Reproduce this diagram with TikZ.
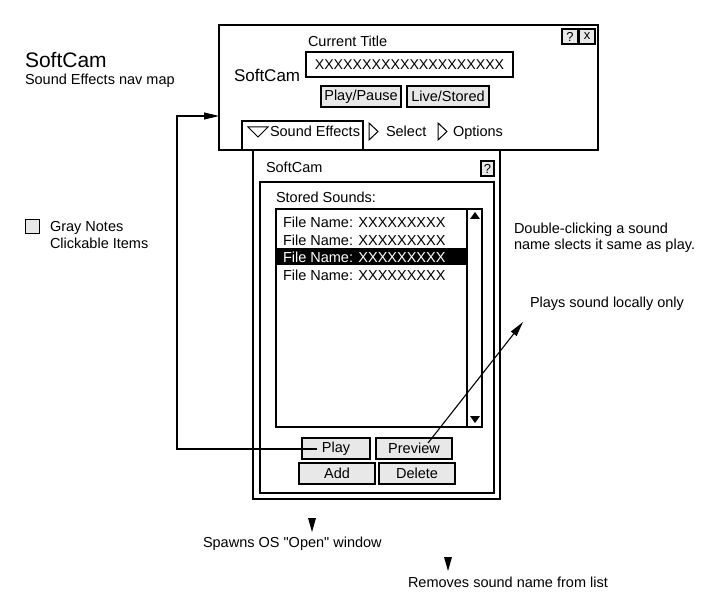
\documentclass[tikz,border=0pt]{standalone}
\usepackage{fontspec}
\setmainfont{Liberation Sans}
\usetikzlibrary{arrows.meta,calc}
\definecolor{btngray}{HTML}{E8E8E8}
\newcommand\fsz{\fontsize{14.5}{17}\selectfont}
\newcommand\fszs{\fontsize{13}{15}\selectfont}
\begin{document}
\begin{tikzpicture}[x=1pt,y=-1pt, line width=1.1pt,
  txt/.style={inner sep=0pt, outer sep=0pt, anchor=base west, font=\fsz},
  btn/.style={draw, fill=btngray, inner sep=0pt, outer sep=0pt, minimum height=21pt, font=\fsz},
  qbox/.style={draw, fill=btngray, inner sep=0pt, outer sep=0pt, minimum width=16pt, minimum height=15pt, font=\fszs},
  win/.style={draw, fill=white, line width=1.3pt, inner sep=0pt, outer sep=0pt, anchor=north west},
  arr/.style={-{Triangle[length=15pt,width=7pt]}, line width=1.1pt}]
\useasboundingbox (0,0) rectangle (720,612);

% left legend
\node[txt, font=\fontsize{21}{24}\selectfont] (title) at (25,68) {SoftCam};
\node[txt] (subtitle) at (25,85) {Sound Effects nav map};
\node[draw, fill=btngray, line width=0.9pt, minimum width=14pt, minimum height=14pt, inner sep=0pt, anchor=north west] (legbox) at (25,219) {};
\node[txt] (leg1) at (50,232) {Gray Notes};
\node[txt] (leg2) at (50,249) {Clickable Items};

% main window
\node[win, minimum width=379pt, minimum height=125pt] (mainwin) at (219,25) {};
\node[txt] (curtitle) at (308,47) {Current Title};
\node[txt, font=\fontsize{17}{20}\selectfont] (mainsc) at (234,82) {SoftCam};
\node[draw, inner sep=0pt, outer sep=0pt, minimum width=207pt, minimum height=25pt, anchor=north west, font=\fontsize{14.2}{17}\selectfont] (field) at (306,52) {XXXXXXXXXXXXXXXXXXXX};
\node[btn, minimum width=80pt] (playpause) at (361,96.5) {Play/Pause};
\node[btn, minimum width=82pt] (livestored) at (448,96.5) {Live/Stored};
\node[qbox] (helptop) at (570,36.5) {?};
\node[qbox] (closetop) at (587,36.5) {x};

% lower window (tab content)
\node[win, minimum width=247pt, minimum height=349pt] (lowwin) at (253,150) {};
% tab
\node[win, minimum width=121pt, minimum height=29pt] (tab) at (242,121) {};
\draw[line width=1pt] (248,127) -- (268,127) -- (258,137) -- cycle;
\node[txt] (tabse) at (270,137) {Sound Effects};
\draw[line width=1pt] (369,123) -- (378,131.5) -- (369,140) -- cycle;
\node[txt] (tabsel) at (386,137) {Select};
\draw[line width=1pt] (438,123) -- (447,131.5) -- (438,140) -- cycle;
\node[txt] (tabopt) at (453,137) {Options};

\node[txt] (lowsc) at (266,173) {SoftCam};
\node[qbox, minimum width=13pt] (helplow) at (487.5,168.5) {?};

% group box
\draw (260,182) rectangle (494,493);
\node[txt] (stored) at (276,203) {Stored Sounds:};
% list
\draw (276,209) rectangle (482,427);
\draw (467,209) -- (467,427);
\fill (470,219) -- (480,219) -- (475,212) -- cycle;
\fill (470,416) -- (480,416) -- (475,423) -- cycle;
\fill (276.5,248.5) rectangle (466.5,265.5);
\node[txt] (f1) at (283,228) {File Name: XXXXXXXXX};
\node[txt] (f2) at (283,246) {File Name: XXXXXXXXX};
\node[txt, text=white] (f3) at (283,263) {File Name: XXXXXXXXX};
\node[txt] (f4) at (283,281) {File Name: XXXXXXXXX};

% buttons
\node[btn, minimum width=68pt] (play) at (336,448.5) {Play};
\node[btn, minimum width=76pt] (preview) at (414,448.5) {Preview};
\node[btn, minimum width=76pt] (add) at (337,473.5) {Add};
\node[btn, minimum width=76pt] (delete) at (417,473.5) {Delete};

% notes
\node[txt] (dbl1) at (514,234) {Double-clicking a sound};
\node[txt] (dbl2) at (514,250) {name slects it same as play.};
\node[txt] (plays) at (530,308) {Plays sound locally only};
\node[txt] (spawns) at (203,547) {Spawns OS \textquotedbl Open\textquotedbl{} window};
\node[txt] (removes) at (408,587) {Removes sound name from list};
\fill (308,518) -- (316,518) -- (312,532) -- cycle;
\fill (444,557) -- (452,557) -- (448,571) -- cycle;

% connectors
\coordinate (pstart) at (317,449);
\coordinate (bend) at (177,116);
\draw[arr] (pstart) -| (bend) -- (bend -| mainwin.west);
\coordinate (pvstart) at (428,443);
\coordinate (pvend) at (523,322);
\draw[arr] (pvstart) -- (pvend);
\end{tikzpicture}
\end{document}
